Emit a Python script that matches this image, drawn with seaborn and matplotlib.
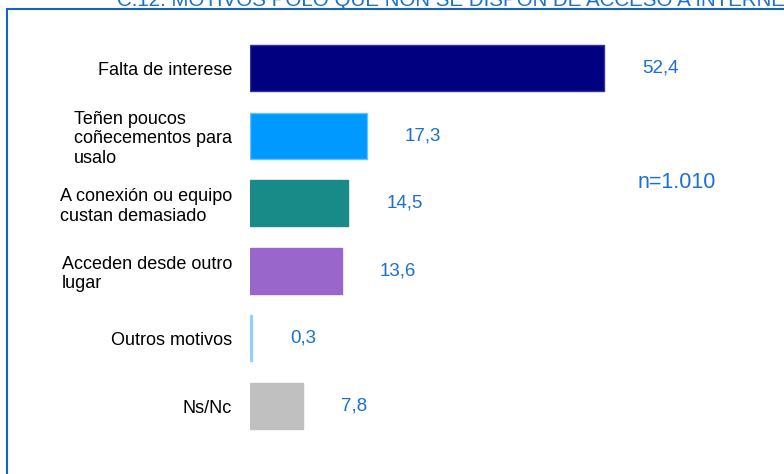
import seaborn as sns
import matplotlib.pyplot as plt
from matplotlib.lines import Line2D

categorias = [
    "Falta de interese",
    "Teñen poucos\ncoñecementos para\nusalo",
    "A conexión ou equipo\ncustan demasiado",
    "Acceden desde outro\nlugar",
    "Outros motivos",
    "Ns/Nc",
]
valores = [52.4, 17.3, 14.5, 13.6, 0.3, 7.8]
etiquetas = ["52,4", "17,3", "14,5", "13,6", "0,3", "7,8"]
cores = ["#000080", "#0099ff", "#188a87", "#9966cc", "#99ccff", "#c0c0c0"]
bordes = ["#333399", "#66c2ff", "#188a87", "#9966cc", "#99ccff", "#c0c0c0"]

titulo = "C.12. MOTIVOS POLO QUE NON SE DISPON DE ACCESO A INTERNET"
azul = "#1a6fd1"

sns.set_theme(style="white")
plt.rcParams["font.family"] = ["Liberation Sans", "DejaVu Sans"]

W, H = 784, 474
fig = plt.figure(figsize=(W / 100, H / 100), dpi=100)

# eixo: 0 no píxel 250, 6.756 px por unidade
x0, x1 = 250, 780
ax = fig.add_axes([x0 / W, 1 - 439.8 / H, (x1 - x0) / W, 405.6 / H])

sns.barplot(
    x=valores,
    y=categorias,
    hue=categorias,
    palette=cores,
    orient="h",
    width=0.68,
    legend=False,
    saturation=1,
    ax=ax,
)
for patch, b in zip(ax.patches, bordes):
    patch.set_edgecolor(b)
    patch.set_linewidth(1)

ax.set_xlim(0, (x1 - x0) / 6.756)
ax.set_ylim(5.5, -0.5)
ax.set_xlabel("")
ax.set_ylabel("")
ax.set_xticks([])
ax.tick_params(axis="y", length=0, pad=13, labelsize=13, labelcolor="black")
for lab in ax.get_yticklabels():
    lab.set_multialignment("left")
sns.despine(ax=ax, left=True, bottom=True)

for i, (v, t) in enumerate(zip(valores, etiquetas)):
    ax.annotate(t, xy=(v, i), xytext=(27.5, 0), textcoords="offset points",
                ha="left", va="center", fontsize=13.5, color=azul)

fig.text(638 / W, 1 - 183 / H, "n=1.010", ha="left", va="center",
         fontsize=15.5, color=azul)

# marco e título cortado na parte superior
marco = "#1565c0"
fig.add_artist(Line2D([7 / W, 7 / W], [0, 1 - 9 / H], color=marco, lw=1.5,
                      transform=fig.transFigure))
fig.add_artist(Line2D([7 / W, 1], [1 - 9 / H, 1 - 9 / H], color=marco, lw=1.5,
                      transform=fig.transFigure))
fig.text(117 / W, 1 - 6 / H, titulo, ha="left", va="baseline",
         fontsize=14.8, color=azul)

fig.savefig("out.png", dpi=100)
